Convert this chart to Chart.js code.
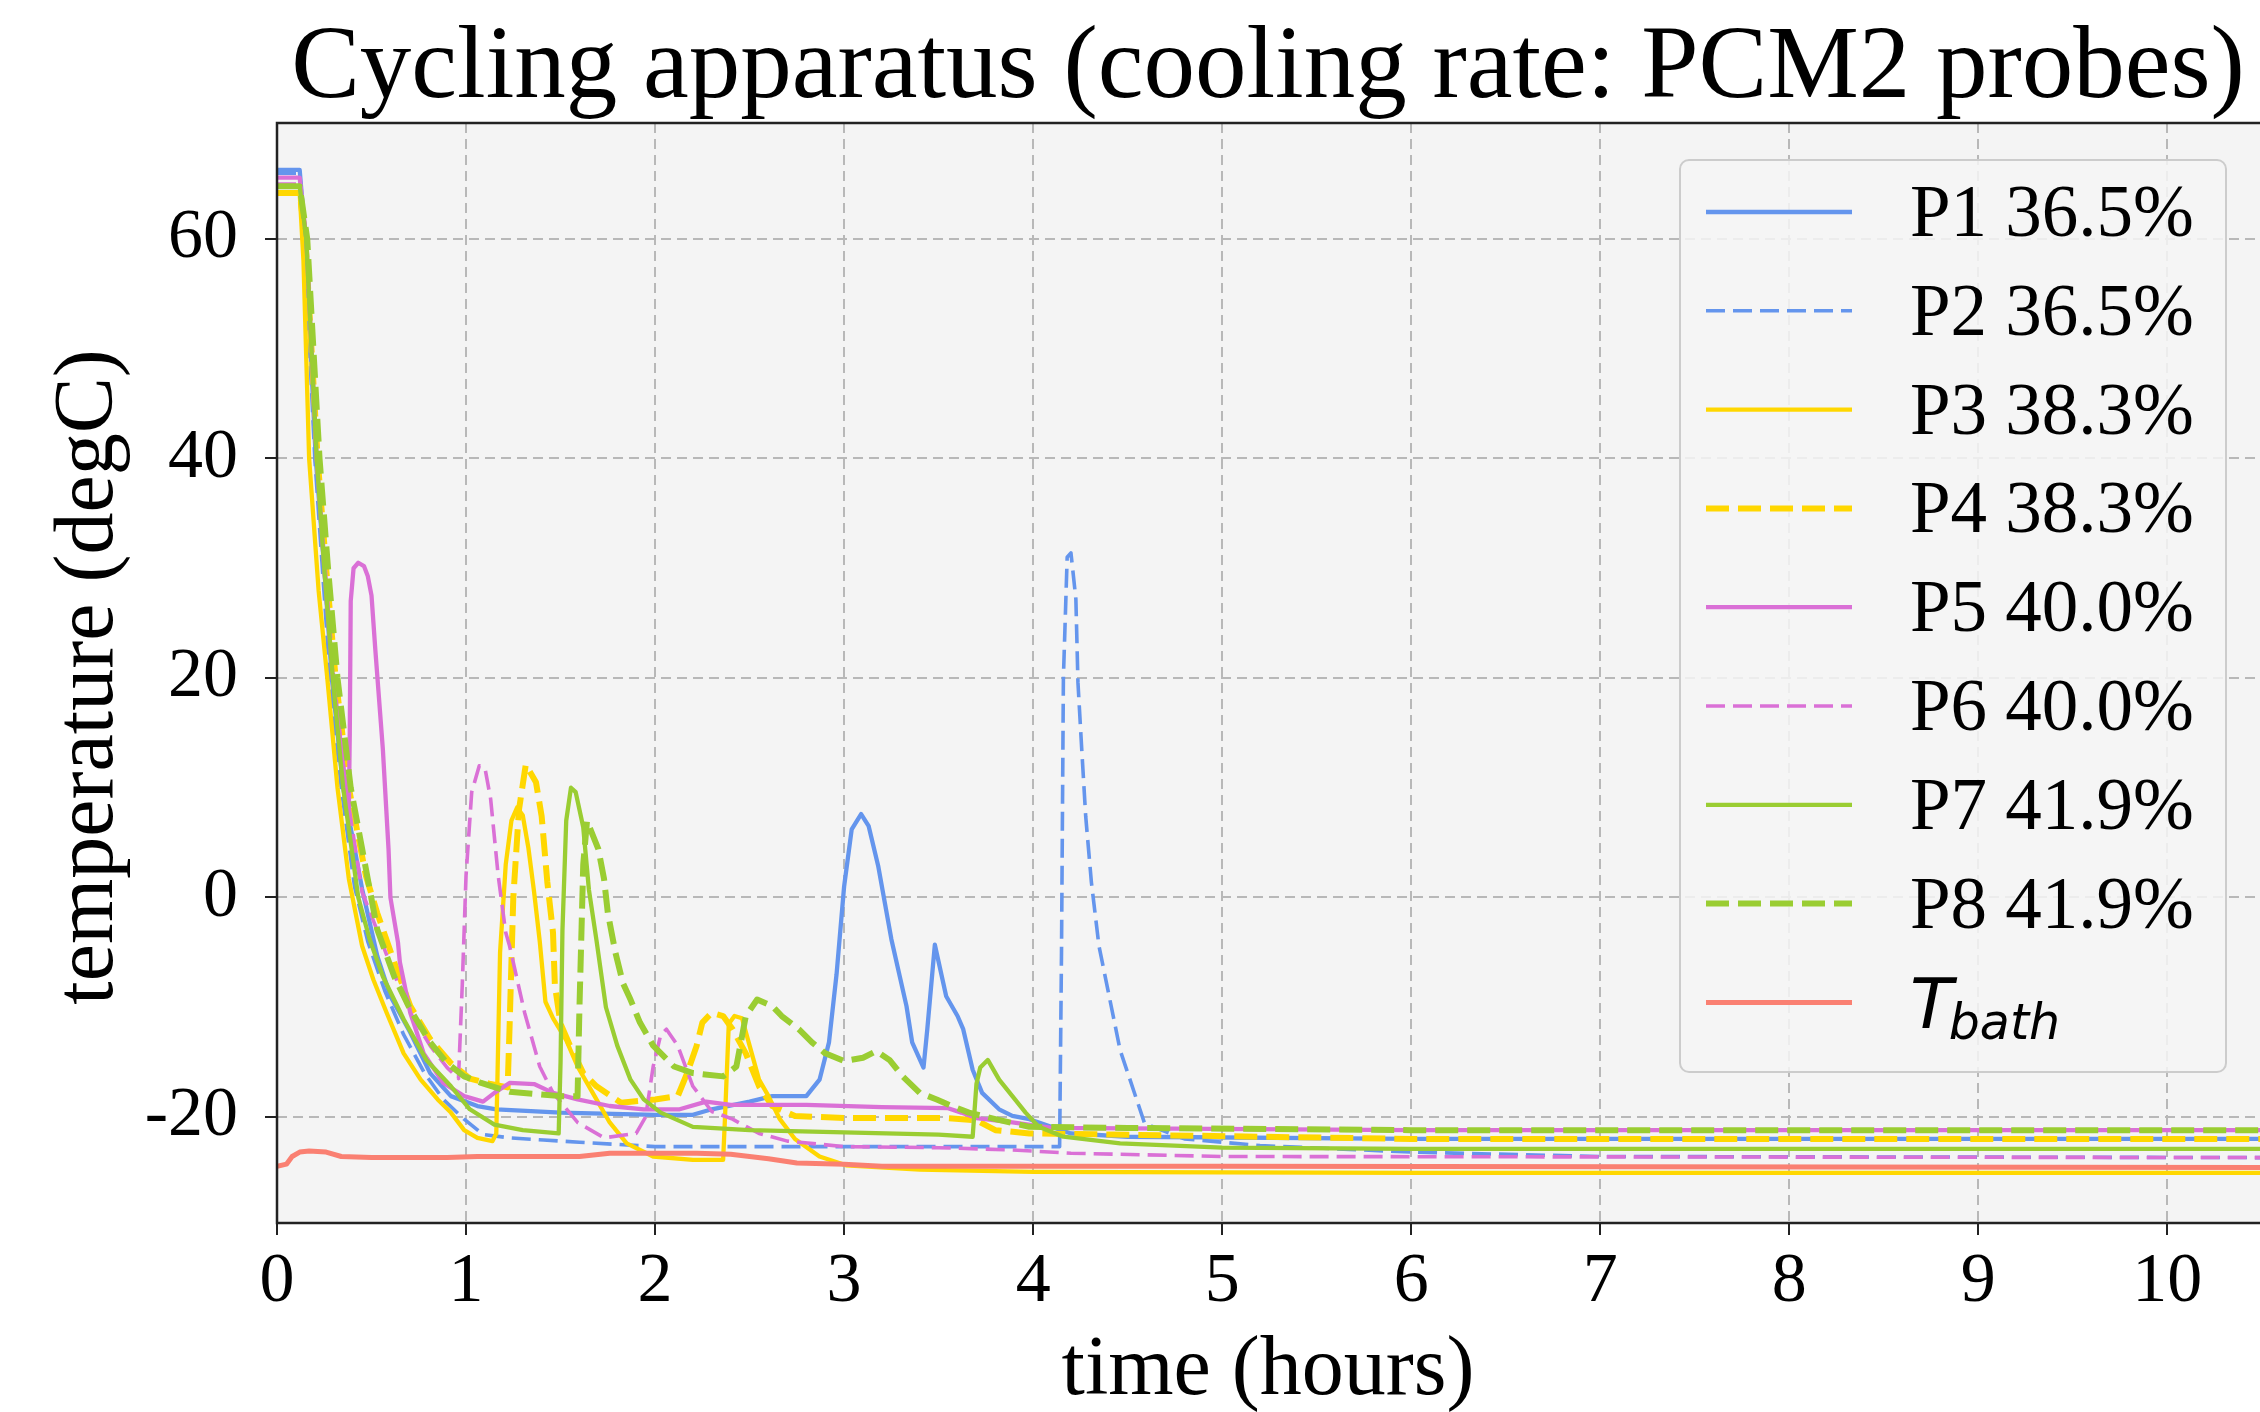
<!DOCTYPE html>
<html>
<head>
<meta charset="utf-8">
<script src="https://cdn.jsdelivr.net/npm/chart.js@4.4.1/dist/chart.umd.min.js"></script>
<style>
  html, body { margin: 0; padding: 0; background: #fff; }
  canvas { display: block; }
</style>
</head>
<body>
<canvas id="chart" width="2260" height="1412" style="width:2260px;height:1412px"></canvas>
<script>
// time (hours) and temperature (degC) for each probe
const p1Time = [0, 0.12, 0.15, 0.205, 0.25, 0.29, 0.35, 0.45, 0.53, 0.6, 0.705, 0.81, 0.92, 1.06, 1.16, 1.5, 2.0, 2.2, 2.3, 2.5, 2.62, 2.8, 2.87, 2.92, 2.96, 3.0, 3.04, 3.09, 3.13, 3.18, 3.25, 3.33, 3.36, 3.42, 3.44, 3.48, 3.54, 3.6, 3.63, 3.68, 3.73, 3.82, 3.89, 3.98, 4.2, 4.5, 6, 10.5];
const p1Temp = [66.3, 66.3, 60, 40, 30, 20, 10, 0.8, -5.3, -9, -12.3, -16, -18.1, -19, -19.3, -19.6, -19.8, -19.8, -19.3, -18.6, -18.1, -18.1, -16.6, -13.2, -7, 1, 6.2, 7.6, 6.5, 2.9, -3.8, -9.9, -13.2, -15.5, -12, -4.3, -9, -10.8, -12, -15.7, -17.8, -19.3, -19.9, -20.2, -21.5, -21.8, -22, -22];

const p2Time = [0, 0.12, 0.145, 0.2, 0.24, 0.28, 0.34, 0.41, 0.48, 0.57, 0.67, 0.78, 0.88, 0.99, 1.09, 1.23, 1.41, 1.6, 2.0, 3.0, 3.9, 4.14, 4.15, 4.16, 4.18, 4.2, 4.226, 4.237, 4.257, 4.278, 4.308, 4.348, 4.46, 4.59, 4.8, 5.2, 6, 7, 10.5];
const p2Temp = [66, 66, 60, 40, 30, 20, 10, 1, -4, -8.5, -12.5, -16, -18.4, -20.2, -21.6, -21.9, -22.1, -22.3, -22.7, -22.7, -22.7, -22.7, -5, 20, 31, 31.4, 27.2, 19.6, 13.5, 7.4, 1.4, -4.4, -13.9, -20.6, -22, -22.6, -23.2, -23.6, -23.7];

const p3Time = [0, 0.12, 0.14, 0.17, 0.22, 0.266, 0.32, 0.38, 0.45, 0.51, 0.58, 0.67, 0.76, 0.85, 0.92, 0.99, 1.06, 1.14, 1.16, 1.18, 1.21, 1.24, 1.27, 1.3, 1.33, 1.36, 1.39, 1.42, 1.46, 1.53, 1.59, 1.68, 1.76, 1.85, 1.99, 2.2, 2.36, 2.37, 2.39, 2.42, 2.46, 2.5, 2.55, 2.6, 2.66, 2.74, 2.87, 3.01, 3.4, 4, 6, 10.5];
const p3Temp = [64.2, 64.2, 58, 40, 28, 20, 10, 1.7, -4.4, -7.5, -10.5, -14.2, -16.6, -18.4, -19.6, -21.2, -21.9, -22.2, -21.5, -5, 3, 7, 8.2, 7.5, 4.5, 0.5, -4, -9.5, -11, -13, -15.4, -18.1, -20.5, -22.4, -23.6, -23.9, -23.9, -20, -11.5, -10.8, -11, -13.5, -16.6, -18.1, -20.2, -22, -23.6, -24.4, -24.8, -25, -25.1, -25.1];

const p4Time = [0, 0.12, 0.15, 0.215, 0.26, 0.31, 0.38, 0.47, 0.53, 0.62, 0.705, 0.81, 0.92, 1.02, 1.13, 1.22, 1.23, 1.25, 1.28, 1.316, 1.37, 1.4, 1.43, 1.46, 1.47, 1.5, 1.55, 1.62, 1.69, 1.82, 2.0, 2.12, 2.17, 2.22, 2.25, 2.3, 2.36, 2.41, 2.48, 2.55, 2.62, 2.74, 3.0, 3.54, 3.7, 3.8, 3.98, 4.42, 6, 10.5];
const p4Temp = [64.2, 64.2, 60, 40, 30, 20, 10, 2, -1.4, -5.9, -9.9, -12.9, -15.1, -16.5, -17, -17.3, -12, 0, 8, 12.1, 10.5, 7.4, 1.4, -3.2, -8, -11.5, -13.5, -16, -17.2, -18.7, -18.4, -18.1, -16, -13.5, -11.4, -10.5, -10.8, -12, -14.2, -17.2, -19, -19.9, -20.1, -20.1, -20.3, -21.2, -21.5, -21.6, -22, -22];

const p5Time = [0, 0.12, 0.155, 0.21, 0.25, 0.295, 0.35, 0.38, 0.385, 0.39, 0.405, 0.43, 0.46, 0.48, 0.5, 0.52, 0.56, 0.59, 0.6, 0.64, 0.65, 0.705, 0.776, 0.88, 0.99, 1.09, 1.15, 1.23, 1.36, 1.46, 1.59, 1.76, 1.94, 2.13, 2.27, 2.4, 2.8, 3.2, 3.55, 3.62, 3.7, 3.89, 4.1, 6, 10.5];
const p5Temp = [65.6, 65.6, 60, 40, 30, 20, 12, 8, 15, 27, 30, 30.5, 30.2, 29.3, 27.5, 22.6, 13.5, 4.4, 0, -4.1, -5.9, -10.5, -14.2, -16.9, -18.1, -18.6, -17.8, -16.9, -17, -17.8, -18.4, -19, -19.3, -19.3, -18.6, -18.9, -18.9, -19.1, -19.2, -19.6, -20.1, -20.5, -21, -21.2, -21.2];

const p6Time = [0, 0.12, 0.155, 0.21, 0.255, 0.3, 0.365, 0.45, 0.53, 0.62, 0.705, 0.81, 0.9, 0.96, 0.98, 1.0, 1.03, 1.07, 1.1, 1.13, 1.17, 1.21, 1.23, 1.31, 1.39, 1.46, 1.59, 1.73, 1.9, 1.95, 1.99, 2.03, 2.06, 2.12, 2.2, 2.3, 2.41, 2.55, 2.7, 3.0, 3.5, 3.89, 4.2, 5, 10.5];
const p6Temp = [65, 65, 60, 40, 30, 20, 10, 0.5, -3, -7, -10.5, -13.5, -15.5, -16.5, -8, 2, 9.6, 12, 11.8, 9, 2, -3.2, -4.4, -10.5, -15.4, -17.8, -20.5, -21.9, -21.5, -20, -15.4, -12.5, -12, -13.5, -17.2, -19.5, -20.2, -21.5, -22.2, -22.7, -22.8, -23, -23.3, -23.6, -23.7];

const p7Time = [0, 0.12, 0.155, 0.21, 0.25, 0.295, 0.35, 0.43, 0.49, 0.56, 0.67, 0.79, 0.92, 1.02, 1.15, 1.3, 1.49, 1.5, 1.51, 1.53, 1.555, 1.58, 1.62, 1.65, 1.69, 1.74, 1.8, 1.87, 1.94, 2.03, 2.2, 2.5, 3.0, 3.5, 3.68, 3.7, 3.72, 3.76, 3.82, 3.89, 3.96, 4.03, 4.16, 4.46, 5, 6, 10.5];
const p7Temp = [64.8, 64.8, 60, 40, 30, 20, 10, 0, -3.8, -7.2, -11.1, -14.8, -17.2, -19.3, -20.7, -21.2, -21.5, -15, -3, 7, 10, 9.6, 6.4, 0.7, -3.9, -10, -13.5, -16.6, -18.4, -19.6, -20.9, -21.2, -21.4, -21.6, -21.8, -17, -15.5, -14.8, -16.6, -18.1, -19.6, -20.9, -21.8, -22.4, -22.8, -22.9, -22.9];

const p8Time = [0, 0.12, 0.16, 0.225, 0.27, 0.32, 0.39, 0.48, 0.53, 0.62, 0.705, 0.81, 0.9, 0.99, 1.08, 1.23, 1.5, 1.59, 1.6, 1.62, 1.64, 1.7, 1.73, 1.75, 1.79, 1.83, 1.87, 1.92, 1.99, 2.1, 2.2, 2.36, 2.43, 2.48, 2.54, 2.62, 2.67, 2.76, 2.83, 2.9, 3.0, 3.1, 3.17, 3.24, 3.31, 3.4, 3.49, 3.57, 3.66, 3.8, 3.98, 4.5, 6, 10.5];
const p8Temp = [64.8, 64.8, 60, 40, 30, 20, 10, 1.7, -2.9, -7.2, -10.2, -13.2, -15.1, -16.3, -16.9, -17.7, -18.1, -18.1, -10, 3, 7, 4.4, 1.7, -1.4, -5, -7.8, -9.3, -11.4, -13.5, -15.4, -16, -16.3, -15.4, -10.8, -9.3, -9.9, -10.8, -12, -13.2, -14.2, -14.9, -14.6, -14, -14.8, -16.3, -17.8, -18.4, -19, -19.6, -20.2, -20.9, -21, -21.2, -21.2];

const bathTime = [0, 0.05, 0.08, 0.12, 0.17, 0.26, 0.34, 0.5, 0.9, 1.06, 1.6, 1.76, 2.22, 2.4, 2.6, 2.75, 3.0, 3.2, 5, 10.5];
const bathTemp = [-24.5, -24.3, -23.6, -23.2, -23.1, -23.2, -23.6, -23.7, -23.7, -23.6, -23.6, -23.3, -23.3, -23.4, -23.8, -24.2, -24.3, -24.5, -24.5, -24.6];

const seriesLabels = ['P1 36.5%', 'P2 36.5%', 'P3 38.3%', 'P4 38.3%', 'P5 40.0%', 'P6 40.0%', 'P7 41.9%', 'P8 41.9%', 'T_bath'];
const xTicks = [0, 1, 2, 3, 4, 5, 6, 7, 8, 9, 10];
const yTicks = [-20, 0, 20, 40, 60];

const seriesTimes = [p1Time, p2Time, p3Time, p4Time, p5Time, p6Time, p7Time, p8Time, bathTime];
const seriesTemps = [p1Temp, p2Temp, p3Temp, p4Temp, p5Temp, p6Temp, p7Temp, p8Temp, bathTemp];

// line styles
const colors = ['#6495ed', '#6495ed', '#ffd700', '#ffd700', '#da70d6', '#da70d6', '#9acd32', '#9acd32', '#fa8072'];
const widths = [4.3, 3.6, 4.3, 6, 4.3, 3.6, 4.3, 6, 5];
const dashes = [[], [19, 8], [], [23, 9], [], [19, 8], [], [23, 9], []];

const serif = '"Liberation Serif", "Times New Roman", serif';

const datasets = seriesLabels.map((label, i) => ({
  label: label,
  data: seriesTimes[i].map((t, k) => ({ x: t, y: seriesTemps[i][k] })),
  borderColor: colors[i],
  borderWidth: widths[i],
  borderDash: dashes[i],
  borderJoinStyle: 'round',
  pointRadius: 0,
  fill: false,
  tension: 0,
  order: -i
}));

const decorations = {
  id: 'decorations',
  beforeDraw(chart) {
    const { ctx, chartArea: a } = chart;
    ctx.save();
    ctx.fillStyle = '#f4f4f4';
    ctx.fillRect(a.left, a.top, a.right - a.left, a.bottom - a.top);
    ctx.restore();
  },
  afterDraw(chart) {
    const { ctx, chartArea: a } = chart;
    ctx.save();

    // spines
    ctx.strokeStyle = '#222';
    ctx.lineWidth = 2.5;
    ctx.beginPath();
    ctx.moveTo(a.right + 2, a.top);
    ctx.lineTo(a.left, a.top);
    ctx.lineTo(a.left, a.bottom);
    ctx.lineTo(a.right + 2, a.bottom);
    ctx.stroke();

    // titles
    ctx.fillStyle = '#000';
    ctx.textAlign = 'center';
    ctx.textBaseline = 'middle';
    ctx.font = '103px ' + serif;
    ctx.fillText('Cycling apparatus (cooling rate: PCM2 probes)', 1268, 70);
    ctx.font = '84px ' + serif;
    ctx.fillText('time (hours)', 1268, 1372);
    ctx.save();
    ctx.translate(90, 677);
    ctx.rotate(-Math.PI / 2);
    ctx.fillText('temperature (degC)', 0, 0);
    ctx.restore();

    // legend
    const box = { left: 1680, top: 160, right: 2226, bottom: 1072 };
    ctx.beginPath();
    ctx.roundRect(box.left, box.top, box.right - box.left, box.bottom - box.top, 9);
    ctx.fillStyle = 'rgba(244,244,244,0.85)';
    ctx.fill();
    ctx.strokeStyle = '#cccccc';
    ctx.lineWidth = 2;
    ctx.stroke();

    chart.data.datasets.forEach((ds, i) => {
      const y = 212 + i * 98.8;
      ctx.beginPath();
      ctx.strokeStyle = ds.borderColor;
      ctx.lineWidth = ds.borderWidth;
      ctx.setLineDash(ds.borderDash);
      ctx.moveTo(1706, y);
      ctx.lineTo(1852, y);
      ctx.stroke();
      ctx.setLineDash([]);
      ctx.fillStyle = '#000';
      ctx.textAlign = 'left';
      ctx.textBaseline = 'alphabetic';
      if (ds.label === 'T_bath') {
        ctx.font = 'italic 70px "DejaVu Sans"';
        ctx.fillText('T', 1910, y + 26);
        const w = ctx.measureText('T').width;
        ctx.font = 'italic 49px "DejaVu Sans"';
        ctx.fillText('bath', 1910 + w - 4, y + 37);
      } else {
        ctx.font = '73px ' + serif;
        ctx.fillText(ds.label, 1910, y + 24);
      }
    });
    ctx.restore();
  }
};

const keepTicks = list => scale => {
  scale.ticks = list.map(v => ({ value: v }));
};

new Chart(document.getElementById('chart'), {
  type: 'line',
  data: { datasets: datasets },
  plugins: [decorations],
  options: {
    responsive: false,
    animation: false,
    devicePixelRatio: 1,
    layout: { padding: { top: 123, right: 0, bottom: 0, left: 0 } },
    plugins: {
      legend: { display: false },
      title: { display: false },
      tooltip: { enabled: false }
    },
    scales: {
      x: {
        type: 'linear',
        min: 0,
        max: 10.49,
        afterBuildTicks: keepTicks(xTicks),
        afterFit: scale => { scale.height = 189; },
        ticks: {
          color: '#000',
          font: { family: serif, size: 70 },
          padding: 6,
          maxRotation: 0,
          autoSkip: false
        },
        grid: {
          color: '#b8b8b8',
          lineWidth: 2,
          tickLength: 12,
          tickColor: '#222',
          tickWidth: 2,
          tickBorderDash: []
        },
        border: { display: false, dash: [10, 6] }
      },
      y: {
        type: 'linear',
        min: -29.66,
        max: 70.57,
        afterBuildTicks: keepTicks(yTicks),
        afterFit: scale => { scale.width = 277; },
        ticks: {
          color: '#000',
          font: { family: serif, size: 70 },
          padding: 27
        },
        grid: {
          color: '#b8b8b8',
          lineWidth: 2,
          tickLength: 12,
          tickColor: '#222',
          tickWidth: 2,
          tickBorderDash: []
        },
        border: { display: false, dash: [10, 6] }
      }
    }
  }
});
</script>
</body>
</html>
